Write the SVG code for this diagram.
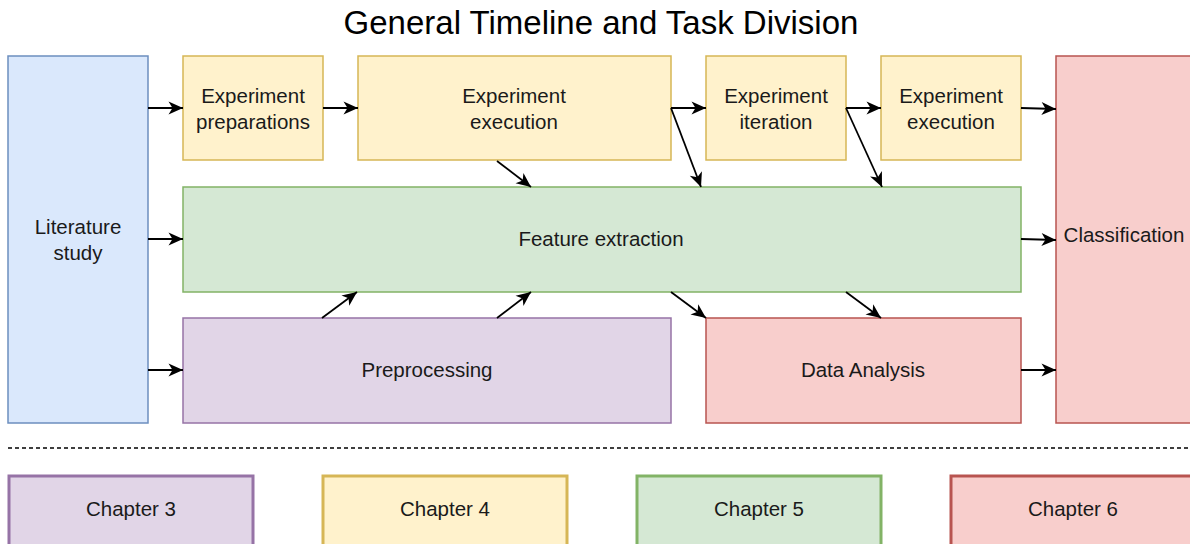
<svg xmlns="http://www.w3.org/2000/svg" width="1190" height="544" viewBox="0 0 1190 544">
  <style>
    .lbl { font-family: "Liberation Sans", Arial, sans-serif; font-size: 20.5px; fill: #1a1a1a; text-anchor: middle; }
    .title { font-family: "Liberation Sans", Arial, sans-serif; font-size: 33px; fill: #000; text-anchor: middle; }
    .blue { fill: #dae8fc; stroke: #6c8ebf; stroke-width: 1.5; }
    .yellow { fill: #fff2cc; stroke: #d6b656; stroke-width: 1.5; }
    .green { fill: #d5e8d4; stroke: #82b366; stroke-width: 1.5; }
    .purple { fill: #e1d5e7; stroke: #9673a6; stroke-width: 1.5; }
    .red { fill: #f8cecc; stroke: #b85450; stroke-width: 1.5; }
    .thick { stroke-width: 3; }
    .edge { stroke: #000; stroke-width: 1.8; fill: none; marker-end: url(#arrow); }
  </style>
  <defs>
    <!-- classic open-notch arrowhead, tip at the line end -->
    <marker id="arrow" markerUnits="userSpaceOnUse" markerWidth="16" markerHeight="14" refX="15" refY="7" orient="auto">
      <path d="M0.5,0.5 L15,7 L0.5,13.5 L4.5,7 Z" fill="#000"/>
    </marker>
  </defs>

  <rect width="1190" height="544" fill="#ffffff"/>

  <text class="title" x="601" y="34">General Timeline and Task Division</text>

  <g id="literature-study">
    <rect class="blue" x="8" y="56" width="140" height="367"/>
    <text class="lbl" x="78" y="234">Literature</text>
    <text class="lbl" x="78" y="260">study</text>
  </g>

  <g id="experiment-preparations">
    <rect class="yellow" x="183" y="56" width="140" height="104"/>
    <text class="lbl" x="253" y="103">Experiment</text>
    <text class="lbl" x="253" y="129">preparations</text>
  </g>

  <g id="experiment-execution">
    <rect class="yellow" x="358" y="56" width="313" height="104"/>
    <text class="lbl" x="514" y="103">Experiment</text>
    <text class="lbl" x="514" y="129">execution</text>
  </g>

  <g id="experiment-iteration">
    <rect class="yellow" x="706" y="56" width="140" height="104"/>
    <text class="lbl" x="776" y="103">Experiment</text>
    <text class="lbl" x="776" y="129">iteration</text>
  </g>

  <g id="experiment-execution-2">
    <rect class="yellow" x="881" y="56" width="140" height="104"/>
    <text class="lbl" x="951" y="103">Experiment</text>
    <text class="lbl" x="951" y="129">execution</text>
  </g>

  <g id="classification">
    <rect class="red" x="1056" y="56" width="140" height="367"/>
    <text class="lbl" x="1124" y="242">Classification</text>
  </g>

  <g id="feature-extraction">
    <rect class="green" x="183" y="187" width="838" height="105"/>
    <text class="lbl" x="601" y="246">Feature extraction</text>
  </g>

  <g id="preprocessing">
    <rect class="purple" x="183" y="318" width="488" height="105"/>
    <text class="lbl" x="427" y="377">Preprocessing</text>
  </g>

  <g id="data-analysis">
    <rect class="red" x="706" y="318" width="315" height="105"/>
    <text class="lbl" x="863" y="377">Data Analysis</text>
  </g>

  <g id="connectors">
    <line class="edge" x1="148" y1="108" x2="183" y2="108"/>
    <line class="edge" x1="148" y1="239" x2="183" y2="239"/>
    <line class="edge" x1="148" y1="370" x2="183" y2="370"/>
    <line class="edge" x1="323" y1="108" x2="358" y2="108"/>
    <line class="edge" x1="671" y1="108" x2="706" y2="108"/>
    <line class="edge" x1="846" y1="108" x2="881" y2="108"/>
    <line class="edge" x1="1021" y1="108" x2="1056" y2="109"/>
    <line class="edge" x1="1021" y1="239" x2="1056" y2="240"/>
    <line class="edge" x1="1021" y1="370" x2="1056" y2="370"/>
    <line class="edge" x1="497" y1="161" x2="531" y2="187"/>
    <line class="edge" x1="671" y1="108" x2="701" y2="187"/>
    <line class="edge" x1="846" y1="108" x2="882" y2="187"/>
    <line class="edge" x1="322" y1="318" x2="357" y2="292"/>
    <line class="edge" x1="497" y1="318" x2="531" y2="292"/>
    <line class="edge" x1="671" y1="292" x2="706" y2="318"/>
    <line class="edge" x1="846" y1="292" x2="881" y2="318"/>
  </g>

  <line id="separator" x1="8" y1="448" x2="1190" y2="448" stroke="#000" stroke-width="1.7" stroke-dasharray="4 3"/>

  <g id="chapter-3">
    <rect class="purple thick" x="9" y="476" width="244" height="72"/>
    <text class="lbl" x="131" y="516">Chapter 3</text>
  </g>
  <g id="chapter-4">
    <rect class="yellow thick" x="323" y="476" width="244" height="72"/>
    <text class="lbl" x="445" y="516">Chapter 4</text>
  </g>
  <g id="chapter-5">
    <rect class="green thick" x="637" y="476" width="244" height="72"/>
    <text class="lbl" x="759" y="516">Chapter 5</text>
  </g>
  <g id="chapter-6">
    <rect class="red thick" x="951" y="476" width="244" height="72"/>
    <text class="lbl" x="1073" y="516">Chapter 6</text>
  </g>
</svg>
